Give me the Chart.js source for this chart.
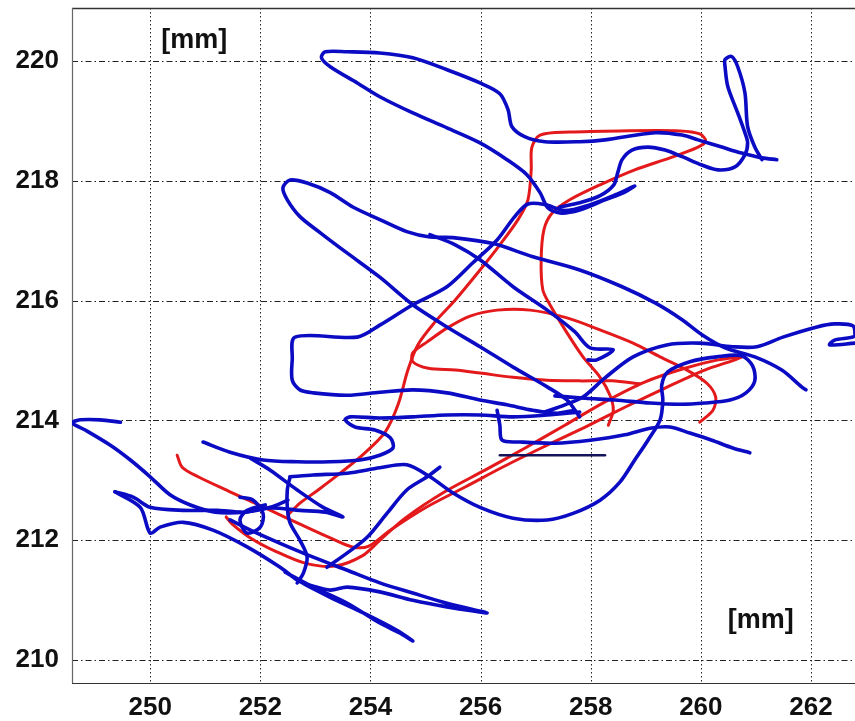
<!DOCTYPE html>
<html><head><meta charset="utf-8">
<script src="https://cdn.jsdelivr.net/npm/chart.js@4.4.1/dist/chart.umd.min.js"></script>
<style>html,body{margin:0;padding:0;background:#fff;overflow:hidden}</style>
</head><body>
<canvas id="c" width="855" height="721"></canvas>
<script>
// ---- axes ----
const xTicks = [250, 252, 254, 256, 258, 260, 262];
const yTicks = [210, 212, 214, 216, 218, 220];
const xRange = [248.58, 262.8];
const yRange = [209.62, 220.88];
const unitLabel = '[mm]';

// ---- red trajectory (mm) ----
const redA = [[250.49,213.42],[250.58,213.22],[250.87,213.06],[251.45,212.81],[252.09,212.54],[252.72,212.27],[253.27,212.04],[253.67,211.89],[253.96,211.90],[254.36,212.17],[254.99,212.54],[255.72,212.89],[256.44,213.24],[257.17,213.57],[257.90,213.89],[258.62,214.22],[259.35,214.54],[260.07,214.84],[260.62,215.01],[260.74,215.06]];
const redB = [[260.74,215.06],[260.31,215.01],[259.71,214.87],[258.98,214.64],[258.26,214.31],[257.53,213.92],[256.81,213.54],[256.08,213.17],[255.35,212.81],[254.63,212.37],[254.17,212.00],[253.85,211.74],[253.36,211.57],[252.81,211.62],[252.27,211.82],[251.82,212.04],[251.49,212.27],[251.38,212.39]];
const redC = [[252.50,212.42],[252.72,212.62],[253.05,212.84],[253.45,213.12],[253.90,213.46],[254.27,213.81],[254.50,214.26],[254.68,214.84],[254.86,215.26],[255.17,215.64],[255.54,216.01],[255.99,216.51],[256.35,216.93],[256.68,217.35],[256.86,217.68],[256.92,218.18],[256.93,218.55],[257.08,218.76],[257.62,218.81],[258.53,218.83],[259.62,218.83],[259.98,218.78],[260.09,218.66],[259.93,218.55],[259.44,218.38],[258.80,218.18],[258.17,217.93],[257.62,217.68],[257.30,217.46],[257.15,217.18],[257.10,216.68],[257.13,216.18],[257.26,215.93],[257.57,215.46],[257.86,215.06],[258.17,214.72],[258.35,214.42],[258.41,214.17],[258.32,213.92]];
const redD = [[259.98,213.97],[260.22,214.17],[260.27,214.39],[260.11,214.62],[259.75,214.84],[259.26,215.06],[258.77,215.29],[258.17,215.51],[257.57,215.71],[256.90,215.84],[256.30,215.84],[255.81,215.74],[255.39,215.54],[255.03,215.31],[254.77,215.13],[254.77,214.98],[255.05,214.87],[255.54,214.84],[255.99,214.79],[256.59,214.72],[257.21,214.67],[257.80,214.66],[258.39,214.66],[258.89,214.61]];

// ---- blue trajectory (mm) ----
const blueTop = [[261.38,218.35],[261.11,218.38],[260.74,218.46],[260.38,218.56],[259.95,218.68],[259.66,218.76],[259.17,218.80],[258.26,218.68],[257.80,218.65],[257.17,218.65],[256.81,218.73],[256.57,218.90],[256.50,219.18],[256.35,219.45],[255.99,219.63],[255.39,219.85],[254.77,220.05],[254.17,220.13],[253.58,220.15],[253.18,220.15],[253.11,220.05],[253.27,219.90],[253.76,219.63],[254.17,219.40],[254.77,219.13],[255.39,218.88],[255.99,218.63],[256.48,218.35],[256.84,218.10],[257.08,217.80],[257.22,217.55],[257.44,217.46],[257.80,217.51],[258.26,217.68],[258.62,217.81],[258.80,217.91]];
const blueNarrow = [[261.11,218.35],[260.98,218.56],[260.85,218.90],[260.80,219.47],[260.67,219.90],[260.56,220.07],[260.44,220.02],[260.44,219.90],[260.49,219.57],[260.67,219.13],[260.80,218.80],[260.85,218.63],[260.80,218.43],[260.62,218.23],[260.31,218.18],[260.02,218.26],[259.66,218.40],[259.35,218.51],[259.04,218.56],[258.75,218.51],[258.57,218.35],[258.49,218.13],[258.42,217.93],[258.17,217.75],[257.80,217.63],[257.44,217.56]];
const blueRect = [[258.77,217.90],[258.44,217.76],[257.99,217.60],[257.53,217.50],[257.17,217.60],[256.86,217.61],[256.62,217.40],[256.30,217.01],[255.86,216.63],[255.39,216.23],[254.77,215.93],[254.17,215.59],[253.76,215.39],[252.63,215.39],[252.58,215.01],[252.58,214.67],[252.72,214.51],[252.96,214.46],[253.58,214.42],[254.17,214.47],[254.77,214.51],[255.39,214.46],[255.99,214.34],[256.48,214.26],[256.95,214.17],[257.39,214.12],[257.71,214.17]];
const blueLoop = [[257.80,214.06],[257.57,214.34],[257.21,214.56],[256.59,214.89],[255.99,215.23],[255.39,215.56],[254.77,215.93],[254.17,216.39],[253.58,216.79],[253.09,217.13],[252.72,217.40],[252.49,217.68],[252.41,217.88],[252.54,218.01],[252.85,217.96],[253.27,217.80],[253.68,217.56],[254.17,217.35],[254.66,217.15],[255.08,217.06],[255.50,217.05],[256.23,216.95],[256.95,216.73],[257.80,216.51],[258.57,216.23],[259.17,215.96],[259.66,215.68],[260.02,215.43],[260.44,215.21],[260.98,215.06],[261.47,214.84],[261.83,214.56],[261.91,214.51]];
const blueSteep = [[255.08,217.10],[255.54,216.93],[255.99,216.68],[256.59,216.23],[257.21,215.84],[257.71,215.48],[257.99,215.21],[258.41,215.18],[258.11,215.01],[257.95,215.01]];
const blueTail = [[257.17,214.14],[257.53,214.26],[257.86,214.39],[258.26,214.71],[258.77,215.06],[259.38,215.26],[259.98,215.29],[260.58,215.23],[261.02,215.23],[261.49,215.39],[262.11,215.56],[262.43,215.61],[262.76,215.58],[262.80,215.41],[262.43,215.34],[262.34,215.26],[262.80,215.29]];
const blueArc = [[252.54,213.06],[252.96,213.09],[253.58,213.12],[254.17,213.21],[254.66,213.26],[255.08,213.06],[255.50,212.79],[255.99,212.55],[256.59,212.37],[257.21,212.34],[257.68,212.45],[258.17,212.67],[258.53,212.97],[258.80,213.34],[259.04,213.67],[259.26,214.01],[259.31,214.34],[259.29,214.59],[259.40,214.81],[259.80,214.98],[260.29,215.06],[260.74,215.08],[260.94,214.91],[260.98,214.66],[260.82,214.46],[260.53,214.34],[260.07,214.29],[259.62,214.27],[259.08,214.29],[258.44,214.34],[257.90,214.37],[257.35,214.41]];
const blueMid = [[256.30,214.17],[256.35,213.92],[256.39,213.67],[256.72,213.64],[257.35,213.62],[257.99,213.67],[258.62,213.76],[259.08,213.87],[259.44,213.89],[259.80,213.79],[260.20,213.67],[260.58,213.54],[260.89,213.46]];
const blueShort = [[256.35,213.42],[257.08,213.42],[258.26,213.42]];
const blueHook = [[250.96,213.64],[251.45,213.47],[252.05,213.34],[252.67,213.31],[253.27,213.31],[253.81,213.34],[254.17,213.42],[254.41,213.54],[254.36,213.71],[254.08,213.84],[253.72,213.89],[253.54,214.01],[253.63,214.06],[254.17,214.04],[254.77,214.06],[255.39,214.09],[255.99,214.09],[256.59,214.06],[257.21,214.09],[257.80,214.14]];
const blueSpike = [[251.82,213.37],[252.18,213.17],[252.67,212.84],[253.14,212.55],[253.50,212.39],[253.18,212.47],[252.72,212.50],[252.18,212.54],[251.72,212.47]];
const blueLeft = [[249.46,213.97],[249.09,214.01],[248.73,214.01],[248.58,213.96],[248.82,213.84],[249.27,213.59],[249.64,213.34],[250.00,213.06],[250.36,212.76],[250.73,212.59],[251.18,212.47],[251.72,212.47],[252.18,212.55],[252.50,212.67]];
const blueVee = [[249.36,212.81],[249.82,212.55],[250.00,212.12],[250.18,212.22],[250.60,212.30],[251.14,212.17],[251.76,211.89],[252.36,211.55],[252.67,211.34],[253.27,211.05],[253.87,210.79],[254.48,210.50],[254.77,210.32],[254.54,210.45],[254.17,210.62],[253.58,210.95],[252.96,211.22],[252.45,211.47]];
const blueVeeTop = [[249.36,212.81],[249.69,212.72],[250.00,212.55],[250.60,212.50],[251.22,212.50],[251.63,212.47]];
const blueLong = [[251.45,212.34],[251.82,212.17],[252.36,211.95],[252.96,211.72],[253.58,211.50],[254.17,211.29],[254.77,211.12],[255.39,210.95],[256.12,210.79],[255.39,210.89],[254.77,211.00],[254.17,211.14],[253.58,211.22],[253.27,211.17],[252.90,211.25]];
const blueKnot = [[251.63,212.72],[251.87,212.67],[252.05,212.45],[252.00,212.22],[251.76,212.12],[251.63,212.34],[251.76,212.50],[252.09,212.59]];
const blueKnotV = [[252.54,213.06],[252.49,212.84],[252.49,212.55],[252.54,212.29],[252.72,212.00],[252.85,211.72],[252.78,211.45],[252.67,211.29]];
const blueRise = [[253.21,211.55],[253.58,211.79],[253.94,212.05],[254.30,212.45],[254.66,212.84],[255.03,213.06],[255.26,213.22]];

const redPaths = [redA, redB, redC, redD];
const bluePaths = [blueTop, blueNarrow, blueRect, blueLoop, blueSteep, blueTail, blueArc, blueMid, blueHook, blueSpike, blueLeft, blueVee, blueVeeTop, blueLong, blueKnot, blueKnotV, blueRise];
const darkPaths = [blueShort];

const BLUE = '#0b0bc4', RED = '#e3191b', DARK = '#14145a';
function ds(path, color, w) {
  return { data: path.map(p => ({x: p[0], y: p[1]})), showLine: true, borderColor: color,
    backgroundColor: color, borderWidth: w, pointRadius: 0, tension: 0.3,
    borderJoinStyle: 'round', borderCapStyle: 'round', fill: false };
}
const datasets = []
  .concat(darkPaths.map(p => ds(p, DARK, 2.5)))
  .concat(bluePaths.map(p => ds(p, BLUE, 3.6)))
  .concat(redPaths.map(p => ds(p, RED, 3)));

const decor = {
  id: 'decor',
  beforeDatasetsDraw(chart) {
    const {ctx, chartArea: a, scales: {x, y}} = chart;
    ctx.save();
    ctx.strokeStyle = '#222'; ctx.lineWidth = 1;
    ctx.setLineDash([1.5, 2.5]);
    xTicks.forEach(v => { const px = Math.round(x.getPixelForValue(v)) + 0.5;
      ctx.beginPath(); ctx.moveTo(px, a.top); ctx.lineTo(px, a.bottom); ctx.stroke(); });
    ctx.setLineDash([6, 3, 1.5, 3]);
    yTicks.forEach(v => { const py = Math.round(y.getPixelForValue(v)) + 0.5;
      ctx.beginPath(); ctx.moveTo(a.left, py); ctx.lineTo(a.right, py); ctx.stroke(); });
    ctx.setLineDash([]);
    ctx.strokeStyle = '#333'; ctx.lineWidth = 1.5;
    ctx.beginPath(); ctx.moveTo(a.left, a.top + 0.5); ctx.lineTo(a.right, a.top + 0.5); ctx.stroke();
    ctx.strokeStyle = '#666'; ctx.lineWidth = 1.2;
    ctx.beginPath(); ctx.moveTo(a.left + 0.5, a.top); ctx.lineTo(a.left + 0.5, a.bottom); ctx.stroke();
    ctx.strokeStyle = '#333';
    ctx.beginPath(); ctx.moveTo(a.left, a.bottom + 0.5); ctx.lineTo(a.right, a.bottom + 0.5); ctx.stroke();
    ctx.restore();
  },
  afterDatasetsDraw(chart) {
    const {ctx, scales: {x, y}} = chart;
    ctx.save();
    ctx.fillStyle = '#111';
    ctx.font = 'bold 27px "Liberation Sans", Arial, sans-serif';
    ctx.textAlign = 'center'; ctx.textBaseline = 'middle';
    ctx.fillText(unitLabel, x.getPixelForValue(250.8), y.getPixelForValue(220.33));
    ctx.fillText(unitLabel, x.getPixelForValue(261.09), y.getPixelForValue(210.66));
    ctx.restore();
  }
};

new Chart(document.getElementById('c'), {
  type: 'scatter',
  data: { datasets },
  options: {
    responsive: false, animation: false,
    layout: { padding: { top: 8, right: 0, left: 0, bottom: 0 } },
    plugins: { legend: { display: false }, tooltip: { enabled: false } },
    scales: {
      x: { type: 'linear', min: xRange[0], max: xRange[1],
        afterBuildTicks: s => { s.ticks = xTicks.map(v => ({value: v})); },
        afterFit: s => { s.height = 38; s.paddingLeft = 0; s.paddingRight = 0; },
        grid: { display: false, drawTicks: false, tickLength: 0 }, border: { display: false },
        ticks: { color: '#111', padding: 9, maxRotation: 0, autoSkip: false,
          font: { family: '"Liberation Sans", Arial, sans-serif', size: 26, weight: 'bold' } } },
      y: { type: 'linear', min: yRange[0], max: yRange[1],
        afterBuildTicks: s => { s.ticks = yTicks.map(v => ({value: v})); },
        afterFit: s => { s.width = 72; s.paddingTop = 0; s.paddingBottom = 0; },
        grid: { display: false, drawTicks: false, tickLength: 0 }, border: { display: false },
        ticks: { color: '#111', padding: 13, autoSkip: false,
          font: { family: '"Liberation Sans", Arial, sans-serif', size: 26, weight: 'bold' } } }
    }
  },
  plugins: [decor]
});
</script>
</body></html>
